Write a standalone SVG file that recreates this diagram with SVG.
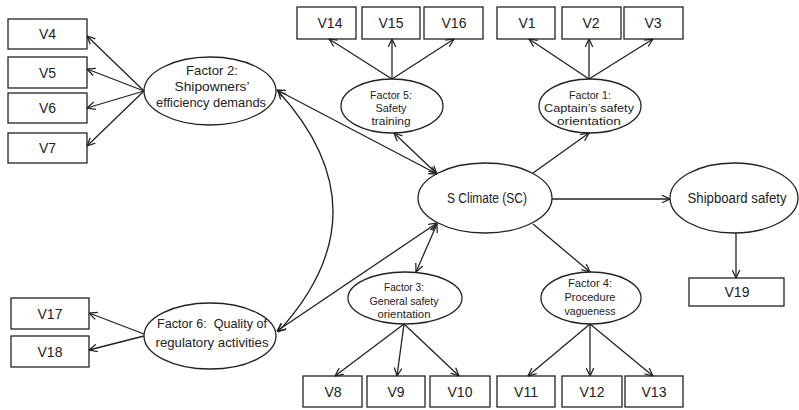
<svg xmlns="http://www.w3.org/2000/svg" width="799" height="410" viewBox="0 0 799 410">
<style>
.box{fill:#fff;stroke:#222;stroke-width:1.3}
.ell{fill:#fff;stroke:#222;stroke-width:1.3}
.con{fill:none;stroke:#222;stroke-width:1.3}
text{font-family:"Liberation Sans",Arial,sans-serif;fill:#222;text-anchor:middle}
.v{font-size:14px}
.f{font-size:11px}
.m{font-size:13px}
.l{font-size:14px}
</style>
<defs>
<marker id="ah" viewBox="0 0 10 10" refX="9.5" refY="5" markerWidth="9" markerHeight="9" markerUnits="userSpaceOnUse" orient="auto-start-reverse">
<path d="M0.5,0.8 L9.5,5 L0.5,9.2" fill="none" stroke="#222" stroke-width="1.4"/>
</marker>
</defs>
<rect width="799" height="410" fill="#fff"/>

<g id="V4"><rect class="box" x="8" y="19" width="79" height="30"/><text class="v" x="47.5" y="39">V4</text></g>
<g id="V5"><rect class="box" x="8" y="57" width="79" height="31"/><text class="v" x="47.5" y="77.5">V5</text></g>
<g id="V6"><rect class="box" x="8" y="93" width="79" height="30"/><text class="v" x="47.5" y="113">V6</text></g>
<g id="V7"><rect class="box" x="8" y="133" width="79" height="30"/><text class="v" x="47.5" y="153">V7</text></g>
<g id="V14"><rect class="box" x="297" y="7" width="59" height="32"/><text class="v" x="330" y="28">V14</text></g>
<g id="V15"><rect class="box" x="362" y="7" width="58" height="32"/><text class="v" x="391" y="28">V15</text></g>
<g id="V16"><rect class="box" x="424" y="7" width="59" height="32"/><text class="v" x="454" y="28">V16</text></g>
<g id="V1"><rect class="box" x="497" y="7" width="58" height="32"/><text class="v" x="527" y="28">V1</text></g>
<g id="V2"><rect class="box" x="562" y="7" width="59" height="32"/><text class="v" x="591" y="28">V2</text></g>
<g id="V3"><rect class="box" x="624" y="7" width="59" height="32"/><text class="v" x="653" y="28">V3</text></g>
<g id="V17"><rect class="box" x="11" y="298" width="78" height="31"/><text class="v" x="50" y="318.5">V17</text></g>
<g id="V18"><rect class="box" x="11" y="336" width="78" height="31"/><text class="v" x="50" y="356.5">V18</text></g>
<g id="V8"><rect class="box" x="303" y="376" width="59" height="31"/><text class="v" x="333" y="396.5">V8</text></g>
<g id="V9"><rect class="box" x="367" y="376" width="58" height="31"/><text class="v" x="396" y="396.5">V9</text></g>
<g id="V10"><rect class="box" x="430" y="376" width="60" height="31"/><text class="v" x="460" y="396.5">V10</text></g>
<g id="V11"><rect class="box" x="497" y="376" width="58" height="31"/><text class="v" x="526" y="396.5">V11</text></g>
<g id="V12"><rect class="box" x="562" y="376" width="60" height="31"/><text class="v" x="592" y="396.5">V12</text></g>
<g id="V13"><rect class="box" x="625" y="376" width="58" height="31"/><text class="v" x="654" y="396.5">V13</text></g>
<g id="V19"><rect class="box" x="689" y="278" width="95" height="28"/><text class="v" x="737" y="297">V19</text></g>

<g id="F2"><ellipse class="ell" cx="210" cy="91" rx="66" ry="34"/>
<text class="m" x="212" y="74.5" textLength="52" lengthAdjust="spacingAndGlyphs">Factor 2:</text>
<text class="m" x="212" y="90.5" textLength="75" lengthAdjust="spacingAndGlyphs">Shipowners’</text>
<text class="m" x="211" y="106.5" textLength="110" lengthAdjust="spacingAndGlyphs">efficiency demands</text></g>
<g id="F6"><ellipse class="ell" cx="210" cy="336" rx="66" ry="33"/>
<text class="m" x="212" y="328" textLength="110" lengthAdjust="spacingAndGlyphs" style="white-space:pre">Factor 6:  Quality of</text>
<text class="m" x="212" y="346.5" textLength="113" lengthAdjust="spacingAndGlyphs">regulatory activities</text></g>
<g id="F5"><ellipse class="ell" cx="392" cy="106" rx="51" ry="27"/>
<text class="f" x="391" y="99" textLength="42" lengthAdjust="spacingAndGlyphs">Factor 5:</text>
<text class="f" x="391" y="112" textLength="31" lengthAdjust="spacingAndGlyphs">Safety</text>
<text class="f" x="391" y="125" textLength="39" lengthAdjust="spacingAndGlyphs">training</text></g>
<g id="F1"><ellipse class="ell" cx="590" cy="106" rx="51" ry="27"/>
<text class="f" x="590" y="99" textLength="42" lengthAdjust="spacingAndGlyphs">Factor 1:</text>
<text class="f" x="589" y="112" textLength="90" lengthAdjust="spacingAndGlyphs">Captain’s safety</text>
<text class="f" x="589" y="125" textLength="64" lengthAdjust="spacingAndGlyphs">orientation</text></g>
<g id="SC"><ellipse class="ell" cx="485" cy="198" rx="67" ry="35"/>
<text class="l" x="487" y="202.5" textLength="80" lengthAdjust="spacingAndGlyphs">S Climate (SC)</text></g>
<g id="SS"><ellipse class="ell" cx="734" cy="198" rx="64" ry="35"/>
<text class="l" x="737" y="202.5" textLength="99" lengthAdjust="spacingAndGlyphs">Shipboard safety</text></g>
<g id="F3"><ellipse class="ell" cx="405" cy="298" rx="57" ry="26"/>
<text class="f" x="404" y="291" textLength="40" lengthAdjust="spacingAndGlyphs">Factor 3:</text>
<text class="f" x="404" y="305" textLength="69" lengthAdjust="spacingAndGlyphs">General safety</text>
<text class="f" x="404" y="317.5" textLength="53" lengthAdjust="spacingAndGlyphs">orientation</text></g>
<g id="F4"><ellipse class="ell" cx="591" cy="298" rx="50" ry="26"/>
<text class="f" x="590" y="287" textLength="44" lengthAdjust="spacingAndGlyphs">Factor 4:</text>
<text class="f" x="590" y="301" textLength="51" lengthAdjust="spacingAndGlyphs">Procedure</text>
<text class="f" x="590" y="315" textLength="51" lengthAdjust="spacingAndGlyphs">vagueness</text></g>

<g id="connectors">
<path class="con" marker-end="url(#ah)" d="M144,91 L87,36"/>
<path class="con" marker-end="url(#ah)" d="M144,91 L87,69"/>
<path class="con" marker-end="url(#ah)" d="M144,91 L87,108"/>
<path class="con" marker-end="url(#ah)" d="M144,91 L87,146"/>
<path class="con" marker-end="url(#ah)" d="M144,334 L89,313"/>
<path class="con" marker-end="url(#ah)" d="M144,336 L89,350"/>
<path class="con" marker-end="url(#ah)" d="M392,79 L329,39"/>
<path class="con" marker-end="url(#ah)" d="M392,79 L392,39"/>
<path class="con" marker-end="url(#ah)" d="M392,79 L454,39"/>
<path class="con" marker-end="url(#ah)" d="M589,79 L529,39"/>
<path class="con" marker-end="url(#ah)" d="M589,79 L589,39"/>
<path class="con" marker-end="url(#ah)" d="M589,79 L653,39"/>
<path class="con" marker-end="url(#ah)" d="M404,324 L335,376"/>
<path class="con" marker-end="url(#ah)" d="M404,324 L397,376"/>
<path class="con" marker-end="url(#ah)" d="M404,324 L459,376"/>
<path class="con" marker-end="url(#ah)" d="M590,324 L528,376"/>
<path class="con" marker-end="url(#ah)" d="M590,324 L590,376"/>
<path class="con" marker-end="url(#ah)" d="M590,324 L653,376"/>
<path class="con" marker-end="url(#ah)" d="M736,233 L736,278"/>
<path class="con" marker-end="url(#ah)" d="M552,199 L670,199"/>
<path class="con" marker-end="url(#ah)" d="M533,173 L589,133"/>
<path class="con" marker-end="url(#ah)" d="M533,224 L590,272"/>
<path class="con" marker-start="url(#ah)" marker-end="url(#ah)" d="M277,90 L437,174"/>
<path class="con" marker-start="url(#ah)" marker-end="url(#ah)" d="M394,133 L437,174"/>
<path class="con" marker-start="url(#ah)" marker-end="url(#ah)" d="M277,331 L437,223"/>
<path class="con" marker-start="url(#ah)" marker-end="url(#ah)" d="M416,272 L437,224"/>
<path class="con" marker-start="url(#ah)" marker-end="url(#ah)" d="M278,91 Q388,212 278,332"/>
</g>
</svg>
